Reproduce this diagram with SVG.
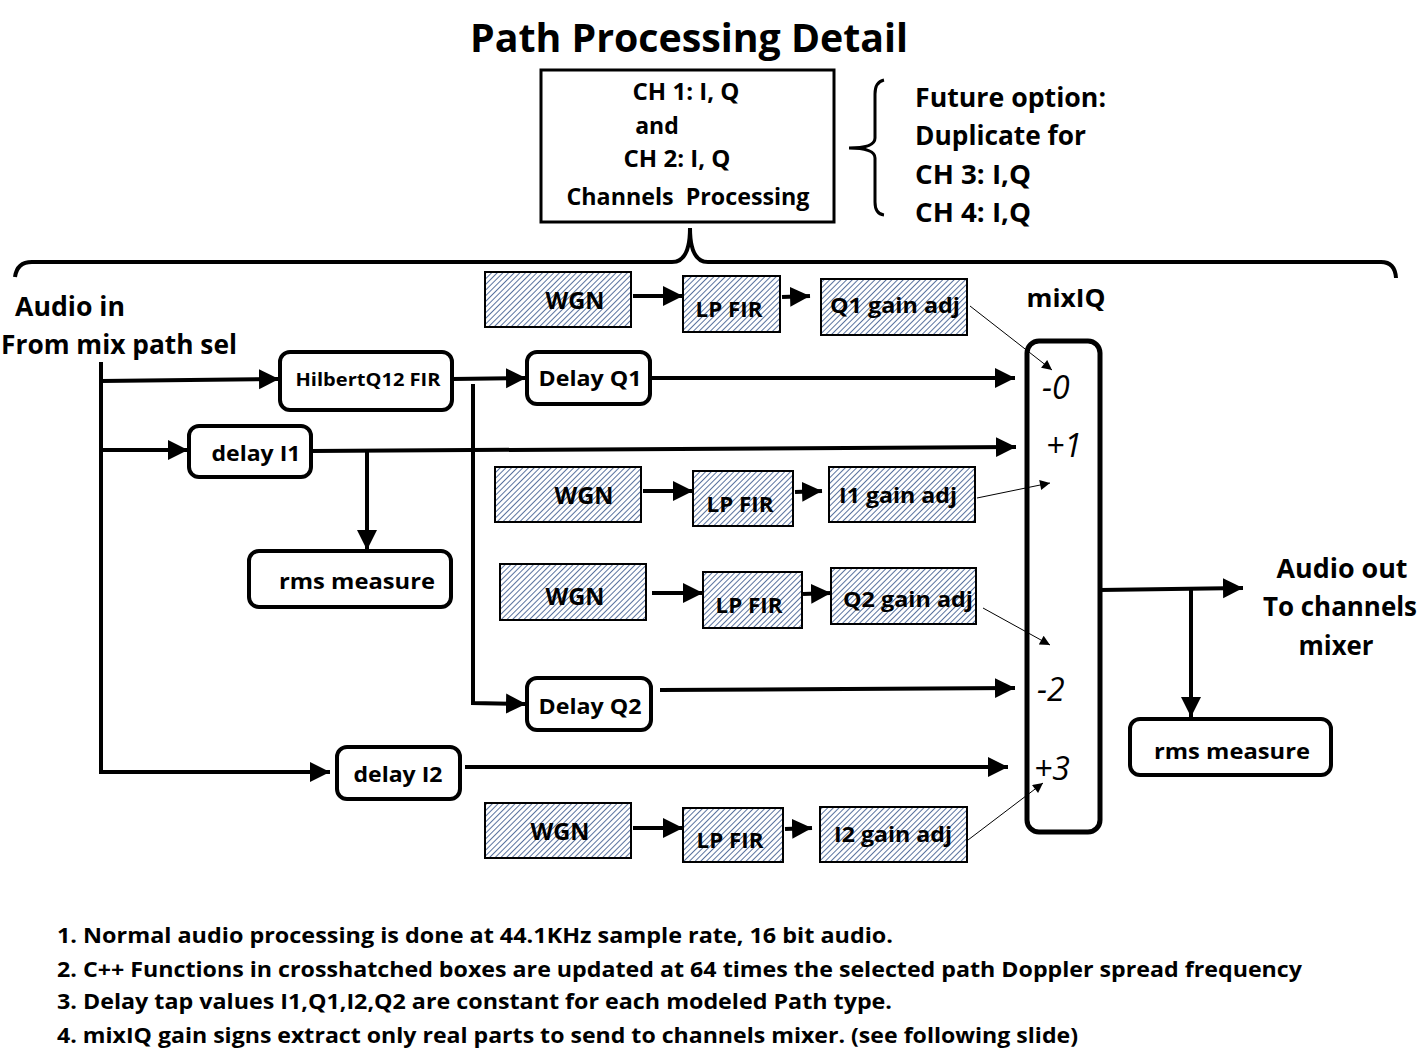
<svg xmlns="http://www.w3.org/2000/svg" width="1423" height="1061" viewBox="0 0 1423 1061">
<style>
text{font-family:"Open Sans",Lato,"Liberation Sans",sans-serif;font-weight:bold;fill:#000}
.c{text-anchor:middle}
.box{fill:#fff;stroke:#000;stroke-width:4}
.hb{fill:url(#hatch);stroke:#000;stroke-width:2}
.w{stroke:#000;stroke-width:4;fill:none}
.t{stroke:#000;stroke-width:1;fill:none}
.it{font-family:"Open Sans",sans-serif;font-style:italic;font-weight:normal;font-size:32px}
</style>
<defs>
<pattern id="hatch" patternUnits="userSpaceOnUse" width="4" height="4" patternTransform="rotate(45)">
<rect width="4" height="4" fill="#ffffff"/>
<line x1="0" y1="0" x2="0" y2="4" stroke="#2f4f86" stroke-width="1.6"/>
</pattern>
<marker id="ah" viewBox="0 0 10 10" refX="10" refY="5" markerWidth="5" markerHeight="6" orient="auto" markerUnits="strokeWidth"><path d="M0,0 L10,5 L0,10 z" fill="#000"/></marker>
<marker id="ta" viewBox="0 0 10 10" refX="10" refY="5" markerWidth="14" markerHeight="10" orient="auto" markerUnits="strokeWidth"><path d="M0,0 L10,5 L0,10 z" fill="#000"/></marker>
</defs>
<rect width="1423" height="1061" fill="#fff"/>

<text class="c" x="689" y="52" font-size="40" textLength="438" lengthAdjust="spacingAndGlyphs">Path Processing Detail</text>

<g id="top-box">
<rect x="541" y="70" width="293" height="152" fill="#fff" stroke="#000" stroke-width="3"/>
<text class="c" x="686" y="100" font-size="23" textLength="107" lengthAdjust="spacingAndGlyphs">CH 1: I, Q</text>
<text class="c" x="657" y="134" font-size="23">and</text>
<text class="c" x="677" y="167" font-size="23" textLength="107" lengthAdjust="spacingAndGlyphs">CH 2: I, Q</text>
<text class="c" x="688" y="205" font-size="23" xml:space="preserve" textLength="243" lengthAdjust="spacingAndGlyphs">Channels  Processing</text>
</g>
<g id="future-note">
<path class="t" style="stroke-width:3" d="M884,80 Q875,82 875,94 L875,138 Q875,148 849,148 Q875,148 875,158 L875,202 Q875,214 884,215"/>
<text x="915" y="107" font-size="26" textLength="191" lengthAdjust="spacingAndGlyphs">Future option:</text>
<text x="915" y="145" font-size="26" textLength="171" lengthAdjust="spacingAndGlyphs">Duplicate for</text>
<text x="915" y="184" font-size="26" textLength="116" lengthAdjust="spacingAndGlyphs">CH 3: I,Q</text>
<text x="915" y="222" font-size="26" textLength="116" lengthAdjust="spacingAndGlyphs">CH 4: I,Q</text>
</g>
<path id="big-brace" class="t" style="stroke-width:4" d="M15,277 Q17,262 32,262 L672,262 Q690,262 690,228 Q690,262 708,262 L1381,262 Q1395,262 1396,278"/>

<g id="audio-in">
<text x="15" y="316" font-size="26" textLength="110" lengthAdjust="spacingAndGlyphs">Audio in</text>
<text x="1" y="354" font-size="26" textLength="236" lengthAdjust="spacingAndGlyphs">From mix path sel</text>
</g>

<g id="hilbert"><rect class="box" x="280" y="352" width="172" height="58" rx="10"/><text class="c" x="368" y="386" font-size="18" textLength="145" lengthAdjust="spacingAndGlyphs">HilbertQ12 FIR</text></g>
<g id="delay-q1"><rect class="box" x="527" y="352" width="123" height="52" rx="10"/><text class="c" x="590" y="386" font-size="22" textLength="103" lengthAdjust="spacingAndGlyphs">Delay Q1</text></g>
<g id="delay-i1"><rect class="box" x="189" y="426" width="122" height="51" rx="10"/><text class="c" x="256" y="461" font-size="22" textLength="89" lengthAdjust="spacingAndGlyphs">delay I1</text></g>
<g id="rms1"><rect class="box" x="249" y="551" width="202" height="56" rx="10"/><text class="c" x="357" y="589" font-size="22" textLength="156" lengthAdjust="spacingAndGlyphs">rms measure</text></g>
<g id="delay-q2"><rect class="box" x="527" y="678" width="124" height="52" rx="10"/><text class="c" x="590" y="714" font-size="22" textLength="103" lengthAdjust="spacingAndGlyphs">Delay Q2</text></g>
<g id="delay-i2"><rect class="box" x="337" y="747" width="123" height="52" rx="10"/><text class="c" x="398" y="782" font-size="22" textLength="89" lengthAdjust="spacingAndGlyphs">delay I2</text></g>

<g id="wgn1"><rect class="hb" x="485" y="272" width="146" height="55"/><text class="c" x="575" y="309" font-size="23" textLength="59" lengthAdjust="spacingAndGlyphs">WGN</text></g>
<g id="lp1"><rect class="hb" x="683" y="276" width="97" height="56"/><text class="c" x="729" y="317" font-size="22" textLength="67" lengthAdjust="spacingAndGlyphs">LP FIR</text></g>
<g id="q1gain"><rect class="hb" x="821" y="279" width="146" height="56"/><text class="c" x="895" y="313" font-size="22" textLength="130" lengthAdjust="spacingAndGlyphs">Q1 gain adj</text></g>

<g id="wgn2"><rect class="hb" x="495" y="467" width="146" height="55"/><text class="c" x="584" y="504" font-size="23" textLength="59" lengthAdjust="spacingAndGlyphs">WGN</text></g>
<g id="lp2"><rect class="hb" x="693" y="471" width="100" height="55"/><text class="c" x="740" y="512" font-size="22" textLength="67" lengthAdjust="spacingAndGlyphs">LP FIR</text></g>
<g id="i1gain"><rect class="hb" x="829" y="467" width="146" height="55"/><text class="c" x="898" y="503" font-size="22" textLength="118" lengthAdjust="spacingAndGlyphs">I1 gain adj</text></g>

<g id="wgn3"><rect class="hb" x="500" y="564" width="146" height="56"/><text class="c" x="575" y="605" font-size="23" textLength="59" lengthAdjust="spacingAndGlyphs">WGN</text></g>
<g id="lp3"><rect class="hb" x="703" y="572" width="99" height="56"/><text class="c" x="749" y="613" font-size="22" textLength="67" lengthAdjust="spacingAndGlyphs">LP FIR</text></g>
<g id="q2gain"><rect class="hb" x="831" y="568" width="145" height="56"/><text class="c" x="908" y="607" font-size="22" textLength="130" lengthAdjust="spacingAndGlyphs">Q2 gain adj</text></g>

<g id="wgn4"><rect class="hb" x="485" y="803" width="146" height="55"/><text class="c" x="560" y="840" font-size="23" textLength="59" lengthAdjust="spacingAndGlyphs">WGN</text></g>
<g id="lp4"><rect class="hb" x="683" y="808" width="100" height="54"/><text class="c" x="730" y="848" font-size="22" textLength="67" lengthAdjust="spacingAndGlyphs">LP FIR</text></g>
<g id="i2gain"><rect class="hb" x="820" y="807" width="147" height="55"/><text class="c" x="893" y="842" font-size="22" textLength="118" lengthAdjust="spacingAndGlyphs">I2 gain adj</text></g>

<g id="mixiq">
<text class="c" x="1066" y="307" font-size="25" textLength="79" lengthAdjust="spacingAndGlyphs">mixIQ</text>
<rect x="1027" y="341" width="73" height="491" rx="12" fill="#fff" stroke="#000" stroke-width="5"/>
<text class="it" x="1042" y="399">-0</text>
<text class="it" x="1046" y="457">+1</text>
<text class="it" x="1037" y="701">-2</text>
<text class="it" x="1034" y="780">+3</text>
</g>

<g id="rms2"><rect class="box" x="1130" y="719" width="201" height="56" rx="10"/><text class="c" x="1232" y="759" font-size="22" textLength="156" lengthAdjust="spacingAndGlyphs">rms measure</text></g>

<g id="audio-out">
<text class="c" x="1342" y="578" font-size="26" textLength="131" lengthAdjust="spacingAndGlyphs">Audio out</text>
<text class="c" x="1340" y="616" font-size="26" textLength="154" lengthAdjust="spacingAndGlyphs">To channels</text>
<text class="c" x="1336" y="655" font-size="26" textLength="75" lengthAdjust="spacingAndGlyphs">mixer</text>
</g>

<g id="connectors">
<path class="w" d="M101,362 L101,772 L330,772" marker-end="url(#ah)"/>
<path class="w" d="M101,381 L279,379" marker-end="url(#ah)"/>
<path class="w" d="M101,450 L188,450" marker-end="url(#ah)"/>
<path class="w" d="M452,379 L526,378" marker-end="url(#ah)"/>
<path class="w" d="M473,384 L473,703 L526,704" marker-end="url(#ah)"/>
<path class="w" d="M650,378 L1015,378" marker-end="url(#ah)"/>
<path class="w" d="M311,451 L1016,447" marker-end="url(#ah)"/>
<path class="w" d="M367,450 L367,550" marker-end="url(#ah)"/>
<path class="w" d="M660,690 L1015,688" marker-end="url(#ah)"/>
<path class="w" d="M465,767 L1008,767" marker-end="url(#ah)"/>
<path class="w" d="M633,296 L683,296" marker-end="url(#ah)"/>
<path class="w" d="M782,297 L810,296" marker-end="url(#ah)"/>
<path class="w" d="M643,491 L693,491" marker-end="url(#ah)"/>
<path class="w" d="M795,492 L822,491" marker-end="url(#ah)"/>
<path class="w" d="M652,593 L703,593" marker-end="url(#ah)"/>
<path class="w" d="M803,594 L831,593" marker-end="url(#ah)"/>
<path class="w" d="M633,828 L683,828" marker-end="url(#ah)"/>
<path class="w" d="M785,829 L812,828" marker-end="url(#ah)"/>
<path class="t" d="M970,306 L1052,370" marker-end="url(#ta)"/>
<path class="t" d="M977,498 L1050,483" marker-end="url(#ta)"/>
<path class="t" d="M983,608 L1050,645" marker-end="url(#ta)"/>
<path class="t" d="M968,840 L1043,783" marker-end="url(#ta)"/>
<path class="w" d="M1100,590 L1243,588" marker-end="url(#ah)"/>
<path class="w" d="M1191,589 L1191,717" marker-end="url(#ah)"/>
</g>

<g id="notes">
<text x="57" y="943" font-size="22" textLength="836" lengthAdjust="spacingAndGlyphs">1. Normal audio processing is done at 44.1KHz sample rate, 16 bit audio.</text>
<text x="57" y="977" font-size="22" textLength="1245" lengthAdjust="spacingAndGlyphs">2. C++ Functions in crosshatched boxes are updated at 64 times the selected path Doppler spread frequency</text>
<text x="57" y="1009" font-size="22" textLength="835" lengthAdjust="spacingAndGlyphs">3. Delay tap values I1,Q1,I2,Q2 are constant for each modeled Path type.</text>
<text x="57" y="1043" font-size="22" textLength="1021" lengthAdjust="spacingAndGlyphs">4. mixIQ gain signs extract only real parts to send to channels mixer. (see following slide)</text>
</g>
</svg>
